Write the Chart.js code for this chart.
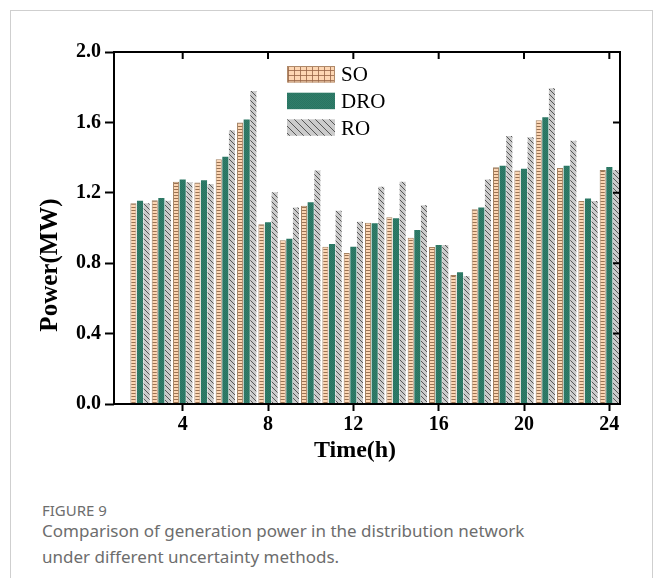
<!DOCTYPE html>
<html>
<head>
<meta charset="utf-8">
<script src="https://cdn.jsdelivr.net/npm/chart.js@4/dist/chart.umd.min.js"></script>
<style>
html,body{margin:0;padding:0;background:#fff;}
body{width:654px;height:578px;overflow:hidden;position:relative;}
#frame{position:absolute;left:10px;top:10px;width:643px;height:640px;border:1px solid #cfcfcf;box-sizing:border-box;}
#c{position:absolute;left:0;top:0;}
.cap{position:absolute;left:42px;font-family:"Noto Sans",sans-serif;color:#6d6d6d;white-space:nowrap;line-height:24px;}
</style>
</head>
<body>
<div id="frame"></div>
<canvas id="c" width="654" height="480"></canvas>
<div class="cap" style="top:498px;font-size:15px;">FIGURE 9</div>
<div class="cap" style="top:519px;font-size:17px;">Comparison of generation power in the distribution network</div>
<div class="cap" style="top:545px;font-size:17px;">under different uncertainty methods.</div>
<script>
// ---- data ----
const hours = [2,3,4,5,6,7,8,9,10,11,12,13,14,15,16,17,18,19,20,21,22,23,24];
const soValues  = [1.14,1.157,1.263,1.258,1.39,1.599,1.021,0.93,1.127,0.894,0.858,1.03,1.061,0.945,0.892,0.733,1.106,1.345,1.326,1.612,1.341,1.153,1.33];
const droValues = [1.155,1.17,1.276,1.271,1.405,1.617,1.032,0.939,1.146,0.909,0.894,1.027,1.055,0.989,0.903,0.748,1.116,1.354,1.337,1.629,1.354,1.167,1.347];
const roValues  = [1.14,1.155,1.26,1.25,1.555,1.778,1.203,1.117,1.326,1.098,1.036,1.235,1.263,1.129,0.903,0.727,1.276,1.523,1.515,1.794,1.496,1.153,1.33];
const seriesNames = ['SO','DRO','RO'];
const xTickValues = [4,8,12,16,20,24];
const xTitle = 'Time(h)';
const yTitle = 'Power(MW)';

// ---- patterns ----
function makePattern(w, h, draw){
  const c = document.createElement('canvas');
  c.width = w; c.height = h;
  const g = c.getContext('2d');
  draw(g, w, h);
  return document.getElementById('c').getContext('2d').createPattern(c, 'repeat');
}
const soBarPattern = makePattern(6, 3, (g,w,h)=>{
  g.fillStyle = '#fdd6b3'; g.fillRect(0,0,w,h);
  g.fillStyle = 'rgba(120,80,50,0.75)'; g.fillRect(0,0,w,1);
});
const soLegendPattern = makePattern(6, 5, (g,w,h)=>{
  g.fillStyle = '#fdd6b3'; g.fillRect(0,0,w,h);
  g.fillStyle = 'rgba(150,100,70,0.8)'; g.fillRect(0,0,w,1); g.fillRect(0,0,1,h);
});
const droPattern = makePattern(2, 2, (g,w,h)=>{
  g.fillStyle = '#2f7e6a'; g.fillRect(0,0,w,h);
  g.fillStyle = '#2a7361'; g.fillRect(0,0,1,1); g.fillRect(1,1,1,1);
});
const roPattern = makePattern(5, 5, (g,w,h)=>{
  g.fillStyle = '#cbcbcb'; g.fillRect(0,0,w,h);
  g.strokeStyle = '#555'; g.lineWidth = 1;
  g.beginPath(); g.moveTo(-1,-1); g.lineTo(w+1,h+1); g.stroke();
});
const roLegendPattern = makePattern(7, 7, (g,w,h)=>{
  g.fillStyle = '#cbcbcb'; g.fillRect(0,0,w,h);
  g.strokeStyle = '#555'; g.lineWidth = 1;
  g.beginPath(); g.moveTo(-1,-1); g.lineTo(w+1,h+1); g.stroke();
});

const serif = '"Liberation Serif","Times New Roman",serif';

const decor = {
  id: 'decor',
  afterDraw(chart){
    const ctx = chart.ctx;
    const a = chart.chartArea;
    const xs = chart.scales.x, ys = chart.scales.y;
    ctx.save();
    // frame
    ctx.strokeStyle = '#000'; ctx.lineWidth = 2;
    ctx.strokeRect(a.left, a.top, a.right - a.left, a.bottom - a.top);
    // inner ticks on top and right
    ctx.beginPath();
    xs.ticks.forEach(t => { const px = xs.getPixelForValue(t.value); ctx.moveTo(px, a.top); ctx.lineTo(px, a.top + 7); });
    ys.ticks.forEach(t => { const py = ys.getPixelForValue(t.value); ctx.moveTo(a.right, py); ctx.lineTo(a.right - 7, py); });
    ctx.stroke();
    // axis titles
    ctx.fillStyle = '#000';
    ctx.font = 'bold 24px ' + serif;
    ctx.textAlign = 'center'; ctx.textBaseline = 'middle';
    ctx.fillText(xTitle, 355, 451);
    ctx.save();
    ctx.translate(51, 265); ctx.rotate(-Math.PI/2);
    ctx.font = 'bold 25px ' + serif;
    ctx.fillText(yTitle, 0, 0);
    ctx.restore();
    // legend
    const fills = [soLegendPattern, droPattern, roLegendPattern];
    const borders = ['#b08a6a', null, null];
    const bx = 287, bw = 48, bh = 16.5, tops = [66, 92.7, 119.3];
    ctx.font = '21px ' + serif; ctx.textAlign = 'left';
    seriesNames.forEach((n, i) => {
      ctx.fillStyle = fills[i];
      ctx.fillRect(bx, tops[i], bw, bh);
      if (borders[i]) { ctx.strokeStyle = borders[i]; ctx.lineWidth = 1; ctx.strokeRect(bx + 0.5, tops[i] + 0.5, bw - 1, bh - 1); }
      ctx.fillStyle = '#000';
      ctx.fillText(n, 341, tops[i] + bh/2 + 1.5);
    });
    ctx.restore();
  }
};

const mk = arr => hours.map((h, i) => ({x: h, y: arr[i]}));

new Chart(document.getElementById('c'), {
  type: 'bar',
  data: {
    datasets: [
      {label: seriesNames[0], data: mk(soValues), backgroundColor: soBarPattern, borderColor: '#a3805f', borderWidth: {left:1, right:1, top:1, bottom:0}},
      {label: seriesNames[1], data: mk(droValues), backgroundColor: droPattern, borderWidth: 0},
      {label: seriesNames[2], data: mk(roValues), backgroundColor: roPattern, borderWidth: 0}
    ]
  },
  options: {
    responsive: false,
    animation: false,
    layout: {padding: {left: 0, top: 52, right: 34, bottom: 0}},
    datasets: {bar: {categoryPercentage: 0.93, barPercentage: 0.92}},
    plugins: {legend: {display: false}, tooltip: {enabled: false}},
    scales: {
      x: {
        type: 'linear', min: 0.78, max: 24.5, offset: false,
        afterBuildTicks: s => { s.ticks = xTickValues.map(v => ({value: v})); },
        afterFit: s => { s.height = 76; },
        grid: {display: true, offset: false, drawOnChartArea: false, drawTicks: true, tickLength: 7, tickWidth: 2, tickColor: '#000'},
        border: {display: false},
        ticks: {padding: 2, color: '#000', font: {family: serif, size: 20, weight: 'bold'}, maxRotation: 0, autoSkip: false, callback: v => String(v)}
      },
      y: {
        min: 0, max: 2,
        afterFit: s => { s.width = 114; },
        grid: {display: true, drawOnChartArea: false, drawTicks: true, tickLength: 9, tickWidth: 2, tickColor: '#000'},
        border: {display: false},
        ticks: {stepSize: 0.4, padding: 4, color: '#000', font: {family: serif, size: 20, weight: 'bold'}, callback: v => Number(v).toFixed(1)}
      }
    }
  },
  plugins: [decor]
});
</script>
</body>
</html>
